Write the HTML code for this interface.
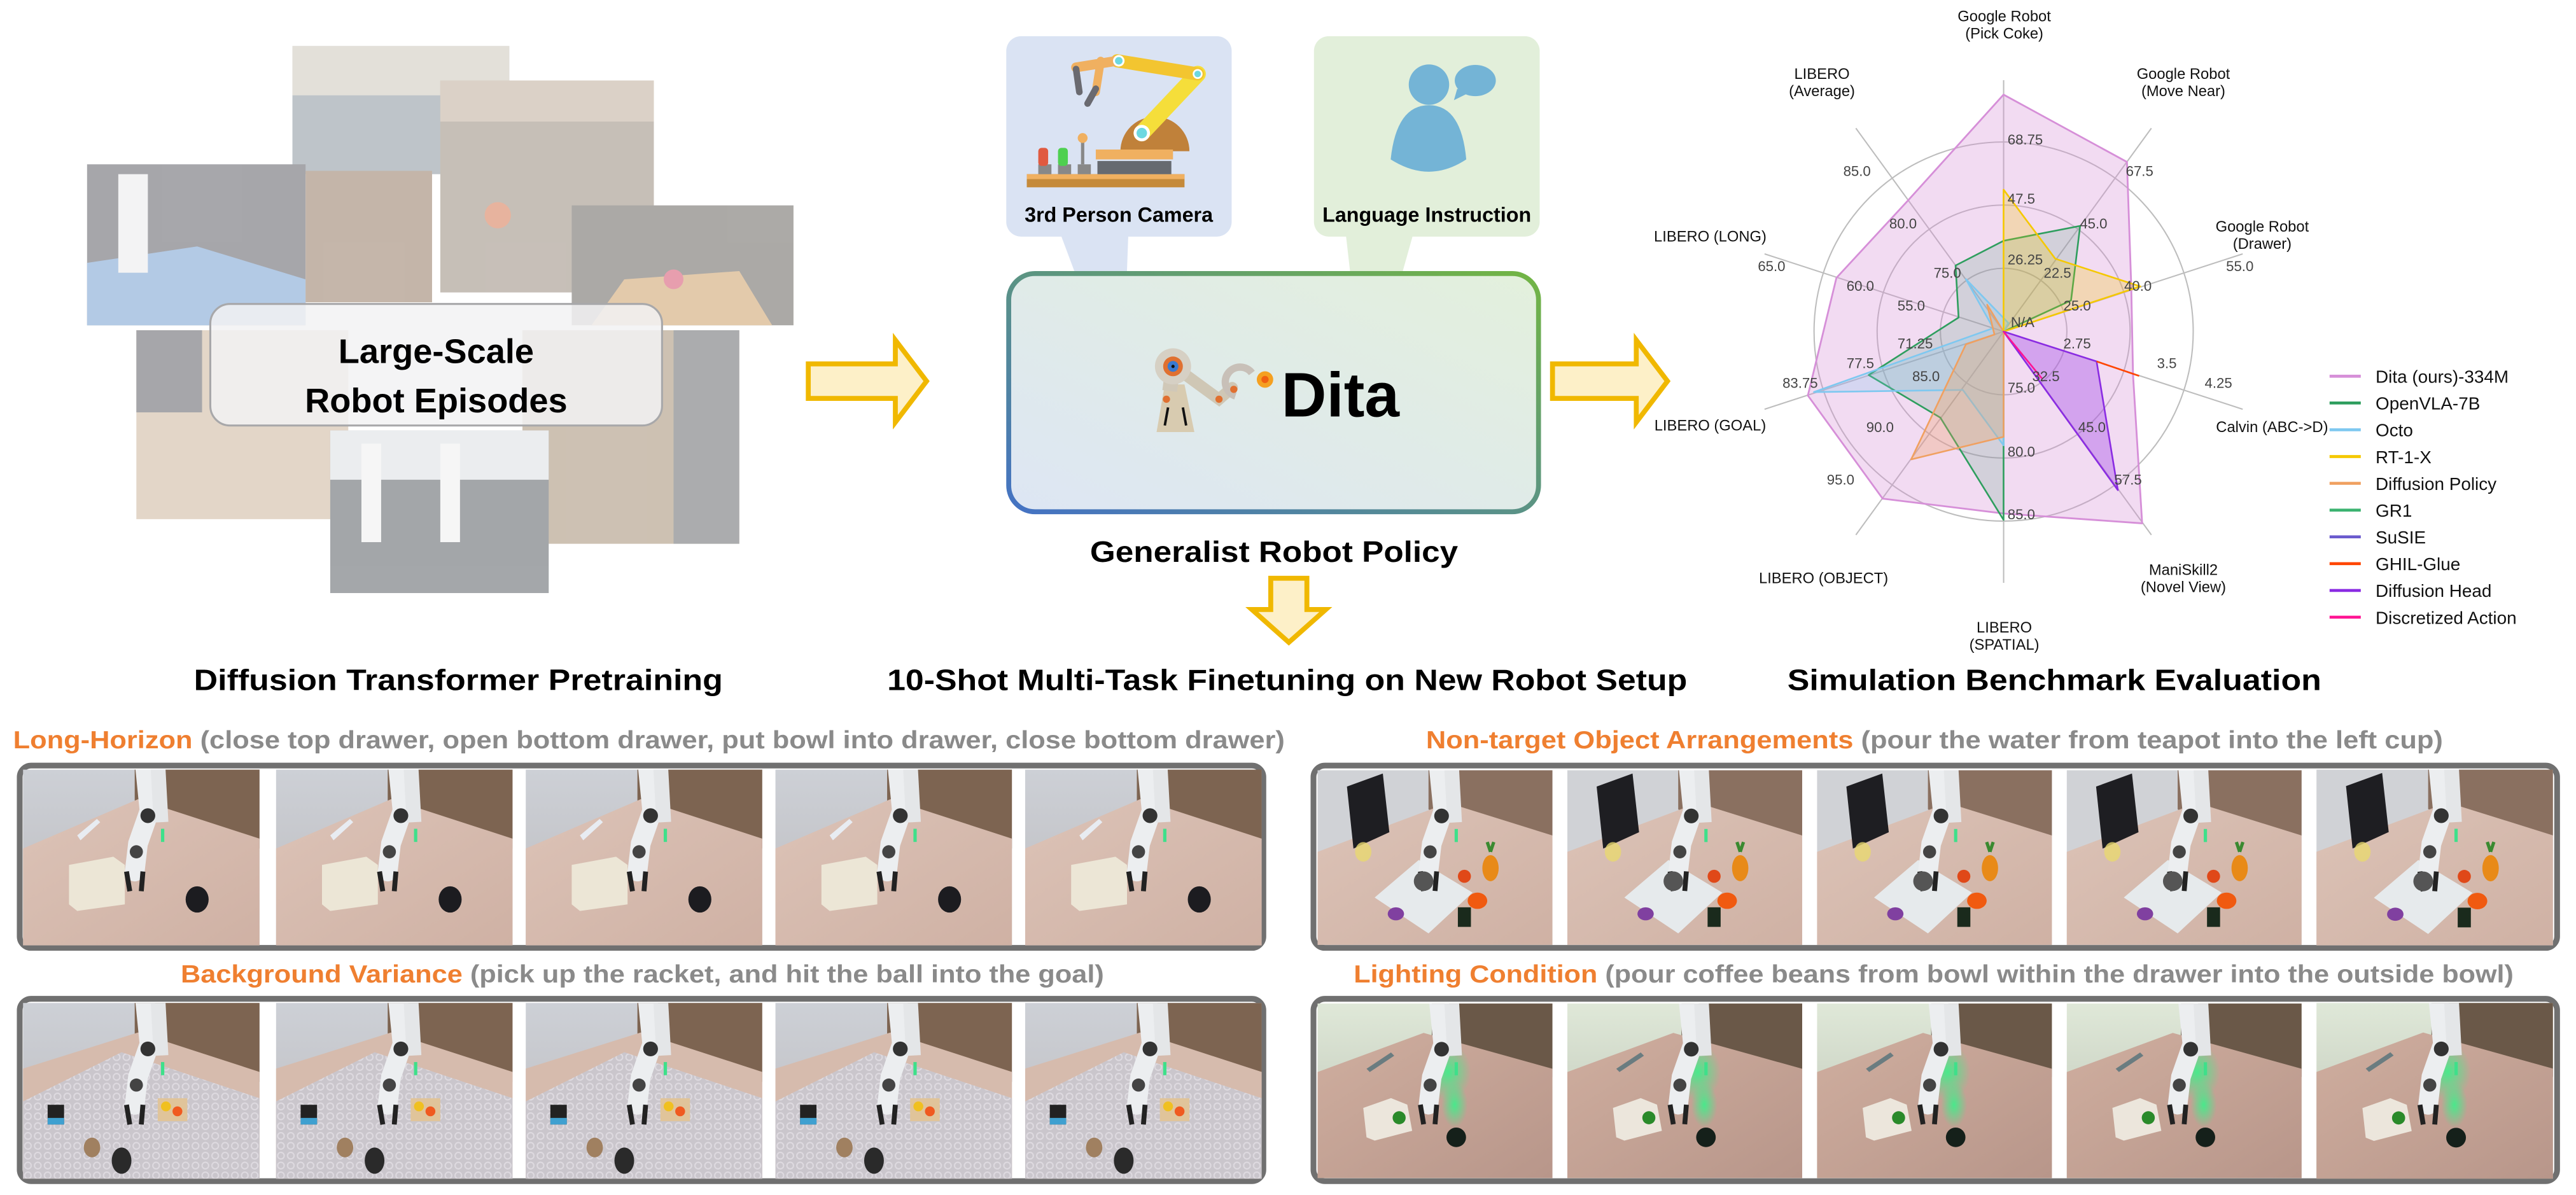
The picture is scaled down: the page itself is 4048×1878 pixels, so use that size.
<!DOCTYPE html>
<html><head><meta charset="utf-8"><style>
html,body{margin:0;padding:0;background:#fff;}
svg{display:block;}
text{font-family:"Liberation Sans",Arial,sans-serif;}
</style></head><body>
<svg width="4048" height="1878" viewBox="0 0 1568 727.4" xmlns="http://www.w3.org/2000/svg">
<defs>
<linearGradient id="boxStroke" x1="0" y1="1" x2="1" y2="0">
<stop offset="0" stop-color="#4472c4"/><stop offset="1" stop-color="#72b544"/></linearGradient>
<linearGradient id="boxFill" x1="0" y1="1" x2="1" y2="0">
<stop offset="0" stop-color="#dde6f4"/><stop offset="1" stop-color="#e3f0dc"/></linearGradient>
<linearGradient id="wall" x1="0" y1="0" x2="0" y2="1"><stop offset="0" stop-color="#cdd0d6"/><stop offset="1" stop-color="#bcbbbe"/></linearGradient>
<linearGradient id="tbl" x1="0" y1="0" x2="1" y2="1"><stop offset="0" stop-color="#dcc3b7"/><stop offset="1" stop-color="#cfb1a4"/></linearGradient>
<linearGradient id="wallG" x1="0" y1="0" x2="0" y2="1"><stop offset="0" stop-color="#dfe8d8"/><stop offset="1" stop-color="#bcc2b4"/></linearGradient>
<linearGradient id="tblD" x1="0" y1="0" x2="1" y2="1"><stop offset="0" stop-color="#cfae9f"/><stop offset="1" stop-color="#b8968a"/></linearGradient>
<pattern id="dots" width="6" height="6" patternUnits="userSpaceOnUse"><rect width="6" height="6" fill="#cac6cc"/><circle cx="3" cy="3" r="2" fill="none" stroke="#dedae0" stroke-width="0.8"/></pattern>
<radialGradient id="glow"><stop offset="0" stop-color="#3cf08a" stop-opacity="0.9"/><stop offset="1" stop-color="#3cf08a" stop-opacity="0"/></radialGradient>

<symbol id="robot" viewBox="0 0 144 107">
<path d="M74 -5 L77 25 L70 45 L68 62" stroke="#eceef0" stroke-width="12" fill="none" stroke-linecap="round"/>
<path d="M82 -5 L84 32" stroke="#e4e6e8" stroke-width="9" fill="none"/>
<circle cx="76" cy="28" r="4.5" fill="#333"/><circle cx="69" cy="50" r="4" fill="#444"/>
<rect x="84" y="36" width="2" height="8" fill="#3ee08a"/>
<path d="M63 62 L65 74 M73 62 L72 74" stroke="#222" stroke-width="3"/>
</symbol>

<symbol id="pLH" viewBox="0 0 144 107">
<rect width="144" height="107" fill="url(#wall)"/>
<polygon points="68,0 144,0 144,48 105,52 68,30" fill="#7d6451"/>
<polygon points="0,48 70,18 144,42 144,107 0,107" fill="url(#tbl)"/>
<polygon points="33,40 45,30 47,32 35,43" fill="#e8ecf2"/>
<polygon points="28,58 55,53 62,58 62,82 33,86 28,82" fill="#ece6d6"/>
<use href="#robot" width="144" height="107"/>
<ellipse cx="106" cy="79" rx="7" ry="8" fill="#1c1c20"/>
</symbol>

<symbol id="pBV" viewBox="0 0 144 107">
<rect width="144" height="107" fill="url(#wall)"/>
<polygon points="68,0 144,0 144,48 105,52 68,30" fill="#7d6451"/>
<polygon points="0,40 70,18 144,42 144,107 0,107" fill="#d6bbad"/>
<polygon points="0,60 60,30 144,58 144,107 0,107" fill="url(#dots)"/>
<use href="#robot" width="144" height="107"/>
<rect x="82" y="58" width="18" height="14" fill="#e0c49a"/><circle cx="87" cy="63" r="3" fill="#f0c020"/><circle cx="94" cy="66" r="3" fill="#f05a20"/>
<rect x="15" y="62" width="10" height="12" fill="#222"/><rect x="15" y="70" width="10" height="4" fill="#3fa0d0"/>
<ellipse cx="42" cy="88" rx="5" ry="6" fill="#a08060"/>
<ellipse cx="60" cy="96" rx="6" ry="8" fill="#2a2a2a"/>
</symbol>

<symbol id="pNT" viewBox="0 0 144 107">
<rect width="144" height="107" fill="#d0d2d6"/>
<polygon points="68,0 144,0 144,40 110,46 68,24" fill="#8a7060"/>
<polygon points="0,50 80,20 144,40 144,107 0,107" fill="url(#tbl)"/>
<polygon points="18,10 40,2 44,38 22,48" fill="#1e1e22"/>
<polygon points="35,78 62,55 95,75 68,100" fill="#e6eaec"/>
<use href="#robot" width="144" height="107"/>
<circle cx="65" cy="68" r="6" fill="#555"/>
<circle cx="90" cy="65" r="4" fill="#e04818"/>
<ellipse cx="106" cy="60" rx="5" ry="8" fill="#e88a18"/><path d="M106 50 l-2 -6 M106 50 l2 -6" stroke="#3a8a30" stroke-width="2"/>
<ellipse cx="98" cy="80" rx="6" ry="5" fill="#f05a10"/>
<rect x="86" y="84" width="8" height="12" fill="#1a2a1c"/>
<ellipse cx="28" cy="50" rx="5" ry="6" fill="#e8d870" opacity="0.8"/>
<ellipse cx="48" cy="88" rx="5" ry="4" fill="#8040a0"/>
</symbol>

<symbol id="pLC" viewBox="0 0 144 107">
<rect width="144" height="107" fill="url(#wallG)"/>
<polygon points="70,0 144,0 144,45 105,48 70,25" fill="#6a5848"/>
<polygon points="0,42 65,18 144,40 144,107 0,107" fill="url(#tblD)"/>
<polygon points="30,40 45,30 47,32 32,42" fill="#6a7c80"/>
<ellipse cx="80" cy="42" rx="14" ry="18" fill="url(#glow)"/>
<ellipse cx="84" cy="62" rx="8" ry="14" fill="url(#glow)"/>
<use href="#robot" width="144" height="107"/>
<polygon points="28,64 45,58 55,62 58,78 35,84 30,82" fill="#ece6dc"/>
<circle cx="50" cy="70" r="4" fill="#2a8a2a"/>
<circle cx="85" cy="82" r="6" fill="#15201a"/>
</symbol>
</defs>

<!-- Left collage -->
<g opacity="0.5">
<rect x="178" y="28" width="132" height="78" fill="#7f8a94"/>
<rect x="178" y="28" width="132" height="30" fill="#c8c2b4"/>
<rect x="268" y="49" width="130" height="129" fill="#8f8072"/>
<rect x="268" y="49" width="130" height="25" fill="#b9a490"/>
<circle cx="303" cy="131" r="8" fill="#d06a40"/>
<rect x="53" y="100" width="133" height="98" fill="#4f4f58"/>
<polygon points="53,160 120,150 186,170 186,198 53,198" fill="#6a96cc"/>
<rect x="72" y="106" width="18" height="60" fill="#e8e8ea"/>
<rect x="186" y="104" width="77" height="80" fill="#8b6e55"/>
<rect x="348" y="125" width="135" height="73" fill="#5a5550"/>
<polygon points="360,198 380,170 450,165 470,198" fill="#c8965a"/>
<circle cx="410" cy="170" r="6" fill="#d04060"/>
<rect x="83" y="201" width="129" height="115" fill="#c8ae92"/>
<rect x="83" y="201" width="40" height="50" fill="#505058"/>
<rect x="318" y="201" width="132" height="130" fill="#9c8468"/>
<rect x="410" y="201" width="40" height="130" fill="#5a5c60"/>
<rect x="201" y="262" width="133" height="99" fill="#4a5056"/>
<rect x="201" y="262" width="133" height="30" fill="#d8dce0"/>
<rect x="220" y="270" width="12" height="60" fill="#eeeeee"/>
<rect x="268" y="270" width="12" height="60" fill="#eeeeee"/>
</g>
<rect x="128" y="185" width="275" height="74" rx="12" fill="#f2f2f3" fill-opacity="0.85" stroke="#a8a8aa" stroke-width="1.2"/>
<text x="265.5" y="221" font-size="21" font-weight="bold" text-anchor="middle" fill="#000">Large-Scale</text>
<text x="265.5" y="251" font-size="21" font-weight="bold" text-anchor="middle" fill="#000">Robot Episodes</text>

<!-- arrows -->
<polygon points="492,221.5 545,221.5 545,207 564,232 545,257 545,242.5 492,242.5" fill="#fdf0c8" stroke="#f0b800" stroke-width="3"/>
<polygon points="945,221.5 996,221.5 996,207 1015,232 996,257 996,242.5 945,242.5" fill="#fdf0c8" stroke="#f0b800" stroke-width="3"/>
<polygon points="773.5,352 795.5,352 795.5,371 807,371 784.5,391 762,371 773.5,371" fill="#fdf0c8" stroke="#f0b800" stroke-width="3"/>

<!-- Top callouts -->
<polygon points="644.6,140 686.9,140 685.9,167 654.7,167" fill="#dae3f3"/>
<rect x="612.5" y="22" width="137.2" height="122" rx="9" fill="#dae3f3"/>
<polygon points="818.9,140 860.9,140 853.3,167 822,167" fill="#e2efda"/>
<rect x="799.8" y="22" width="137.4" height="122" rx="9" fill="#e2efda"/>
<!-- robot arm icon -->
<rect x="625" y="106" width="96" height="8" fill="#c58a3a"/>
<rect x="625" y="106" width="96" height="3" fill="#f0b060"/>
<rect x="668" y="98" width="45" height="8" fill="#666a70"/>
<path d="M682 92 A21 21 0 0 1 724 92 Z" fill="#c0813a"/>
<rect x="667" y="91" width="47" height="6" fill="#f0b060"/>
<rect x="632" y="100" width="8" height="6" fill="#888"/><rect x="644" y="100" width="8" height="6" fill="#888"/><rect x="656" y="100" width="8" height="6" fill="#888"/>
<rect x="632" y="90" width="6" height="11" rx="2" fill="#e05a40"/><rect x="644" y="90" width="6" height="11" rx="2" fill="#4ed050"/>
<rect x="658" y="84" width="2" height="16" fill="#888"/><circle cx="659" cy="84" r="3" fill="#f0b060"/>
<path d="M695 81 L729 45" stroke="#f5de3a" stroke-width="10" stroke-linecap="round"/>
<path d="M729 45 L680 37" stroke="#f3c530" stroke-width="8" stroke-linecap="round"/>
<path d="M680 37 L655 41" stroke="#f0b060" stroke-width="6" stroke-linecap="round"/>
<path d="M670 37 L667 56" stroke="#f0b060" stroke-width="5" stroke-linecap="round"/>
<path d="M655 42 L657 56 M667 54 L662 63" stroke="#6a6a70" stroke-width="4" stroke-linecap="round"/>
<circle cx="695" cy="81" r="5" fill="#fff"/><circle cx="695" cy="81" r="3.2" fill="#6dd8e0"/>
<circle cx="729" cy="45" r="3" fill="#fff"/><circle cx="729" cy="45" r="2" fill="#6dd8e0"/>
<circle cx="681" cy="37" r="3.5" fill="#fff"/><circle cx="681" cy="37" r="2.3" fill="#6dd8e0"/>
<text x="681" y="135" font-size="12.5" font-weight="bold" text-anchor="middle" fill="#000">3rd Person Camera</text>
<!-- person icon -->
<circle cx="869.8" cy="51.5" r="12.3" fill="#74b4d6"/>
<path d="M846.5 97 Q850 64 869.8 64 Q889.5 64 892.5 97 Q870 112 846.5 97 Z" fill="#74b4d6"/>
<ellipse cx="898" cy="49" rx="12.5" ry="9.5" fill="#74b4d6"/>
<polygon points="887,54 885,61 893,57" fill="#74b4d6"/>
<text x="868.5" y="135" font-size="12.5" font-weight="bold" text-anchor="middle" fill="#000">Language Instruction</text>

<!-- main box -->
<rect x="614" y="166.5" width="322.5" height="145" rx="16" fill="url(#boxFill)" stroke="url(#boxStroke)" stroke-width="3"/>
<!-- dita robot -->
<polygon points="704,263 709,234 721,234 727,263" fill="#d8cbb0"/>
<path d="M712 238 L714 222" stroke="#d0c8b8" stroke-width="9"/>
<path d="M716 224 L742 243 L750 236" stroke="#cfc7b5" stroke-width="7" fill="none" stroke-linecap="round"/>
<circle cx="714" cy="223" r="11" fill="#d6d0c4"/>
<circle cx="714" cy="223" r="6" fill="#e07030"/><circle cx="714" cy="223" r="3.3" fill="#3a7ad0"/><circle cx="714" cy="223" r="1" fill="#111"/>
<path d="M752 241 A9 9 0 1 1 762 227" stroke="#c8c0b8" stroke-width="4.5" fill="none"/>
<circle cx="751" cy="237" r="2.2" fill="#e07030"/><circle cx="742" cy="243" r="2.2" fill="#e07030"/><circle cx="710" cy="243" r="2.2" fill="#e07030"/>
<circle cx="770" cy="231" r="5" fill="#f5a020"/><circle cx="770" cy="231" r="2.2" fill="#f06010"/>
<path d="M709 259 L711 248 M720 248 L722 259" stroke="#111" stroke-width="1.5"/>
<text x="780" y="253.5" font-size="38" font-weight="bold" fill="#000">Dita</text>
<text x="775.5" y="342" font-size="18" font-weight="bold" text-anchor="middle" fill="#000" textLength="224" lengthAdjust="spacingAndGlyphs">Generalist Robot Policy</text>

<!-- section titles -->
<text x="279" y="420" font-size="18" font-weight="bold" text-anchor="middle" fill="#000" textLength="322" lengthAdjust="spacingAndGlyphs">Diffusion Transformer Pretraining</text>
<text x="783.5" y="420" font-size="18" font-weight="bold" text-anchor="middle" fill="#000" textLength="487" lengthAdjust="spacingAndGlyphs">10-Shot Multi-Task Finetuning on New Robot Setup</text>
<text x="1250.5" y="420" font-size="18" font-weight="bold" text-anchor="middle" fill="#000" textLength="325" lengthAdjust="spacingAndGlyphs">Simulation Benchmark Evaluation</text>

<!-- Radar -->
<g stroke="#bdbdbd" stroke-width="0.8" fill="none">
<circle cx="1219.6" cy="201.8" r="38.5"/><circle cx="1219.6" cy="201.8" r="77"/><circle cx="1219.6" cy="201.8" r="115.4"/>
<g transform="translate(1219.6,201.8)">
<line x1="0" y1="0" x2="0" y2="-153"/>
<line x1="0" y1="0" x2="0" y2="-153" transform="rotate(36)"/>
<line x1="0" y1="0" x2="0" y2="-153" transform="rotate(72)"/>
<line x1="0" y1="0" x2="0" y2="-153" transform="rotate(108)"/>
<line x1="0" y1="0" x2="0" y2="-153" transform="rotate(144)"/>
<line x1="0" y1="0" x2="0" y2="-153" transform="rotate(180)"/>
<line x1="0" y1="0" x2="0" y2="-153" transform="rotate(216)"/>
<line x1="0" y1="0" x2="0" y2="-153" transform="rotate(252)"/>
<line x1="0" y1="0" x2="0" y2="-153" transform="rotate(288)"/>
<line x1="0" y1="0" x2="0" y2="-153" transform="rotate(324)"/>
</g></g>
<g transform="translate(987.6,0) scale(0.36996,0.2594)" stroke-linejoin="round">
<polygon points="627,222 830,380 837,668 840,880 855,1228 627,1205 428,1170 305,928 352,652 470,470" fill="#d68fd8" fill-opacity="0.32" stroke="#d68fd8" stroke-width="2.8" vector-effect="non-scaling-stroke"/>
<polygon points="627,565 753,530 738,705 627,778 627,1220 523,980 405,880 553,745 548,623" fill="#2e9e5e" fill-opacity="0.16" stroke="#2e9e5e" stroke-width="2.6" vector-effect="non-scaling-stroke"/>
<polygon points="635,758 627,778 627,1045 560,915 315,920 610,770 565,655" fill="#7ec8f0" fill-opacity="0.25" stroke="#7ec8f0" stroke-width="2.6" vector-effect="non-scaling-stroke"/>
<polygon points="627,778 600,715 612,785 565,808 475,1078 627,1025" fill="#f0a060" fill-opacity="0.3" stroke="#f0a060" stroke-width="2.6" vector-effect="non-scaling-stroke"/>
<polygon points="627,445 712,607 852,672 627,778" fill="#f5c800" fill-opacity="0.25" stroke="#f5c800" stroke-width="2.6" vector-effect="non-scaling-stroke"/>
<polygon points="627,778 780,848 815,1150" fill="#9b3ce8" fill-opacity="0.35" stroke="#8a2be2" stroke-width="2.6" vector-effect="non-scaling-stroke"/>
<line x1="780" y1="848" x2="850" y2="882" stroke="#ff4500" stroke-width="2.6" vector-effect="non-scaling-stroke"/>
<line x1="627" y1="778" x2="690" y2="888" stroke="#ff1493" stroke-width="2.6" vector-effect="non-scaling-stroke"/>
</g>
<g font-size="8.6" fill="#444">
<text x="1222" y="88">68.75</text><text x="1222" y="124">47.5</text><text x="1222" y="161">26.25</text><text x="1224" y="199">N/A</text>
<text x="1294" y="107">67.5</text><text x="1266" y="139">45.0</text><text x="1244" y="169">22.5</text>
<text x="1355" y="165">55.0</text><text x="1293" y="177">40.0</text><text x="1256" y="189">25.0</text>
<text x="1342" y="236">4.25</text><text x="1313" y="224">3.5</text><text x="1256" y="212">2.75</text>
<text x="1287" y="295">57.5</text><text x="1265" y="263">45.0</text><text x="1237" y="232">32.5</text>
<text x="1222" y="316">85.0</text><text x="1222" y="278">80.0</text><text x="1222" y="239">75.0</text>
<text x="1112" y="295">95.0</text><text x="1136" y="263">90.0</text><text x="1164" y="232">85.0</text>
<text x="1085" y="236">83.75</text><text x="1124" y="224">77.5</text><text x="1155" y="212">71.25</text>
<text x="1070" y="165">65.0</text><text x="1124" y="177">60.0</text><text x="1155" y="189">55.0</text>
<text x="1122" y="107">85.0</text><text x="1150" y="139">80.0</text><text x="1177" y="169">75.0</text>
</g>
<g font-size="9.2" fill="#111" text-anchor="middle">
<text x="1220" y="13">Google Robot</text><text x="1220" y="23.5">(Pick Coke)</text>
<text x="1329" y="48">Google Robot</text><text x="1329" y="58.5">(Move Near)</text>
<text x="1377" y="141">Google Robot</text><text x="1377" y="151.5">(Drawer)</text>
<text x="1383" y="263">Calvin (ABC-&gt;D)</text>
<text x="1329" y="350">ManiSkill2</text><text x="1329" y="360.5">(Novel View)</text>
<text x="1220" y="385">LIBERO</text><text x="1220" y="395.5">(SPATIAL)</text>
<text x="1110" y="355">LIBERO (OBJECT)</text>
<text x="1041" y="262">LIBERO (GOAL)</text>
<text x="1041" y="147">LIBERO (LONG)</text>
<text x="1109" y="48">LIBERO</text><text x="1109" y="58.5">(Average)</text>
</g>
<g stroke-width="1.8">
<line x1="1418" y1="229" x2="1437" y2="229" stroke="#d68fd8"/>
<line x1="1418" y1="245.3" x2="1437" y2="245.3" stroke="#2e9e5e"/>
<line x1="1418" y1="261.6" x2="1437" y2="261.6" stroke="#7ec8f0"/>
<line x1="1418" y1="277.9" x2="1437" y2="277.9" stroke="#f5c800"/>
<line x1="1418" y1="294.2" x2="1437" y2="294.2" stroke="#f0a060"/>
<line x1="1418" y1="310.5" x2="1437" y2="310.5" stroke="#3cb371"/>
<line x1="1418" y1="326.8" x2="1437" y2="326.8" stroke="#6a5acd"/>
<line x1="1418" y1="343.1" x2="1437" y2="343.1" stroke="#ff4500"/>
<line x1="1418" y1="359.4" x2="1437" y2="359.4" stroke="#8a2be2"/>
<line x1="1418" y1="375.7" x2="1437" y2="375.7" stroke="#ff1493"/>
</g>
<g font-size="10.8" fill="#111">
<text x="1446" y="233">Dita (ours)-334M</text>
<text x="1446" y="249.3">OpenVLA-7B</text>
<text x="1446" y="265.6">Octo</text>
<text x="1446" y="281.9">RT-1-X</text>
<text x="1446" y="298.2">Diffusion Policy</text>
<text x="1446" y="314.5">GR1</text>
<text x="1446" y="330.8">SuSIE</text>
<text x="1446" y="347.1">GHIL-Glue</text>
<text x="1446" y="363.4">Diffusion Head</text>
<text x="1446" y="379.7">Discretized Action</text>
</g>

<!-- Bottom panel titles -->
<g font-size="15" font-weight="bold">
<text x="8" y="455.5" textLength="774" lengthAdjust="spacingAndGlyphs"><tspan fill="#ef7f30">Long-Horizon</tspan><tspan fill="#8a8a8a"> (close top drawer, open bottom drawer, put bowl into drawer, close bottom drawer)</tspan></text>
<text x="110" y="598" textLength="562" lengthAdjust="spacingAndGlyphs"><tspan fill="#ef7f30">Background Variance</tspan><tspan fill="#8a8a8a"> (pick up the racket, and hit the ball into the goal)</tspan></text>
<text x="868" y="455.5" textLength="619" lengthAdjust="spacingAndGlyphs"><tspan fill="#ef7f30">Non-target Object Arrangements</tspan><tspan fill="#8a8a8a"> (pour the water from teapot into the left cup)</tspan></text>
<text x="824" y="598" textLength="706" lengthAdjust="spacingAndGlyphs"><tspan fill="#ef7f30">Lighting Condition</tspan><tspan fill="#8a8a8a"> (pour coffee beans from bowl within the drawer into the outside bowl)</tspan></text>
</g>

<!-- Panels -->
<rect x="12" y="466" width="757" height="111" rx="7" fill="#fff" stroke="#707070" stroke-width="3.5"/>
<use href="#pLH" x="14" y="468.5" width="144" height="107"/>
<use href="#pLH" x="168" y="468.5" width="144" height="107"/>
<use href="#pLH" x="320" y="468.5" width="144" height="107"/>
<use href="#pLH" x="472" y="468.5" width="144" height="107"/>
<use href="#pLH" x="624" y="468.5" width="144" height="107"/>

<rect x="12" y="608" width="757" height="111" rx="7" fill="#fff" stroke="#707070" stroke-width="3.5"/>
<use href="#pBV" x="14" y="610.5" width="144" height="107"/>
<use href="#pBV" x="168" y="610.5" width="144" height="107"/>
<use href="#pBV" x="320" y="610.5" width="144" height="107"/>
<use href="#pBV" x="472" y="610.5" width="144" height="107"/>
<use href="#pBV" x="624" y="610.5" width="144" height="107"/>

<rect x="799.5" y="466" width="757" height="111" rx="7" fill="#fff" stroke="#707070" stroke-width="3.5"/>
<use href="#pNT" x="802" y="468.5" width="143" height="107"/>
<use href="#pNT" x="954" y="468.5" width="143" height="107"/>
<use href="#pNT" x="1106" y="468.5" width="143" height="107"/>
<use href="#pNT" x="1258" y="468.5" width="143" height="107"/>
<use href="#pNT" x="1410" y="468.5" width="144" height="107"/>

<rect x="799.5" y="608" width="757" height="111" rx="7" fill="#fff" stroke="#707070" stroke-width="3.5"/>
<use href="#pLC" x="802" y="610.5" width="143" height="107"/>
<use href="#pLC" x="954" y="610.5" width="143" height="107"/>
<use href="#pLC" x="1106" y="610.5" width="143" height="107"/>
<use href="#pLC" x="1258" y="610.5" width="143" height="107"/>
<use href="#pLC" x="1410" y="610.5" width="144" height="107"/>
</svg>
</body></html>
